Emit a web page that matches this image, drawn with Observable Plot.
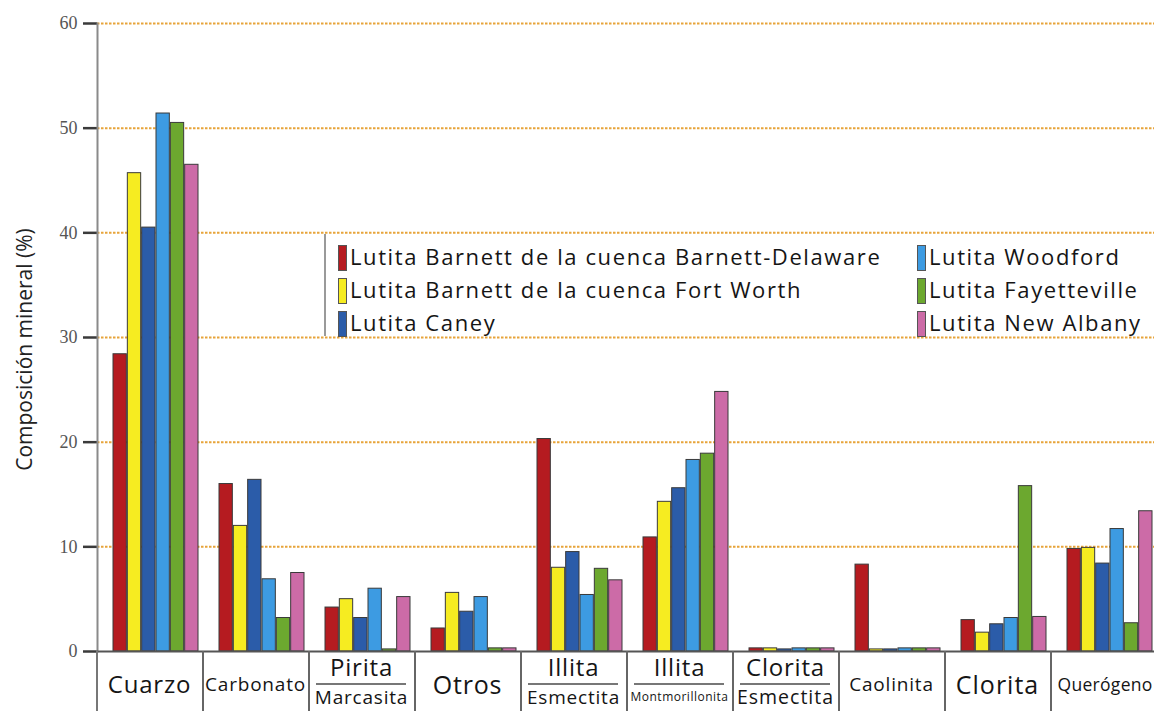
<!DOCTYPE html>
<html>
<head>
<meta charset="utf-8">
<script src="https://cdn.jsdelivr.net/npm/d3@7"></script>
<script src="https://cdn.jsdelivr.net/npm/@observablehq/plot@0.6"></script>
<style>
  html, body { margin: 0; padding: 0; background: #fff; overflow: hidden; }
  #wrap { position: relative; width: 1154px; height: 711px; overflow: hidden; }
  #wrap svg { display: block; }
  .legend { position: absolute; background: #fff; border-left: 2px solid #9a9a9a; font-family: "Open Sans", sans-serif; font-size: 22px; letter-spacing: 1.6px; color: #151515; }
  .litem { position: absolute; white-space: nowrap; line-height: 26px; }
  .sw { display: inline-block; width: 7px; height: 24px; border: 1px solid #555; vertical-align: middle; margin-right: 3px; position: relative; top: -1px; }
  .cell { position: absolute; box-sizing: border-box; border-right: 2px solid #666; font-family: "Open Sans", sans-serif; color: #151515; text-align: center; }
  .cell .t { position: absolute; left: -10px; right: -10px; white-space: nowrap; }
  .cell .rule { position: absolute; height: 0; border-top: 2px solid #777; }
</style>
</head>
<body>
<div id="wrap"></div>
<script>
// ---------- data ----------
const categories = ["Cuarzo", "Carbonato", "Pirita/Marcasita", "Otros", "Illita/Esmectita",
  "Illita/Montmorillonita", "Clorita/Esmectita", "Caolinita", "Clorita", "Querógeno"];
const labelTop = ["Cuarzo", "Carbonato", "Pirita", "Otros", "Illita", "Illita", "Clorita", "Caolinita", "Clorita", "Querógeno"];
const labelBottom = ["", "", "Marcasita", "", "Esmectita", "Montmorillonita", "Esmectita", "", "", ""];
const series = ["Lutita Barnett de la cuenca Barnett-Delaware", "Lutita Barnett de la cuenca Fort Worth",
  "Lutita Caney", "Lutita Woodford", "Lutita Fayetteville", "Lutita New Albany"];
const barnettDelaware = [28.4, 16.0, 4.2, 2.2, 20.3, 10.9, 0.3, 8.3, 3.0, 9.8];
const barnettFortWorth = [45.7, 12.0, 5.0, 5.6, 8.0, 14.3, 0.3, 0.2, 1.8, 9.9];
const caney = [40.5, 16.4, 3.2, 3.8, 9.5, 15.6, 0.2, 0.2, 2.6, 8.4];
const woodford = [51.4, 6.9, 6.0, 5.2, 5.4, 18.3, 0.3, 0.3, 3.2, 11.7];
const fayetteville = [50.5, 3.2, 0.2, 0.3, 7.9, 18.9, 0.3, 0.3, 15.8, 2.7];
const newAlbany = [46.5, 7.5, 5.2, 0.3, 6.8, 24.8, 0.3, 0.3, 3.3, 13.4];
const yTicks = [0, 10, 20, 30, 40, 50, 60];
const yTitle = "Composición mineral (%)";

// ---------- styles ----------
const colors = ["#b51b20", "#f6ec21", "#2b5ca9", "#3d9be2", "#6ca82f", "#cc6ba7"];
const W = 1154, H = 711, mTop = 23, mBottom = 60, mLeft = 97;
const xRange = [97, 1169.3], padIn = 0.194, padOut = 0.122;

const allValues = [barnettDelaware, barnettFortWorth, caney, woodford, fayetteville, newAlbany];
const data = [];
series.forEach((s, j) => categories.forEach((c, i) => data.push({cat: c, series: s, value: allValues[j][i]})));

// bandwidth (same parameters as the Plot x scale)
const band = d3.scaleBand(categories, xRange).paddingInner(padIn).paddingOuter(padOut);
const bw = band.bandwidth();
const sw = bw / series.length;

const barMarks = series.map((s, j) => Plot.barY(data.filter(d => d.series === s), {
  x: "cat", y: "value", fill: "series",
  insetLeft: j * sw, insetRight: (series.length - 1 - j) * sw,
  stroke: "#3a3a3a", strokeWidth: 1
}));

const plot = Plot.plot({
  width: W, height: H,
  marginTop: mTop, marginBottom: mBottom, marginLeft: mLeft, marginRight: 0,
  style: {background: "transparent", overflow: "visible"},
  x: {domain: categories, range: xRange, paddingInner: padIn, paddingOuter: padOut, axis: null},
  y: {domain: [0, 60], axis: null},
  color: {domain: series, range: colors},
  marks: [
    Plot.ruleY(yTicks.filter(t => t > 0), {stroke: "#e7a43a", strokeWidth: 2, strokeDasharray: "2.5,1.5"}),
    Plot.axisY({ticks: yTicks, tickSize: 14, tickPadding: 6, stroke: "#3a3a3a", strokeWidth: 2.5,
      fill: "#555", fontFamily: "Liberation Serif, serif", fontSize: 18, label: null, tickFormat: d => String(d)}),
    Plot.frame({anchor: "left", stroke: "#8a8a8a", strokeWidth: 2}),
    ...barMarks,
    Plot.ruleY([0], {stroke: "#555", strokeWidth: 2}),
    Plot.text([yTitle], {text: d => d, frameAnchor: "left", dx: -72, dy: 12, rotate: -90, textAnchor: "middle",
      fontSize: 21, fontFamily: "Open Sans, sans-serif", fill: "#222", ariaLabel: "ytitle"})
  ]
});
const wrap = document.getElementById("wrap");
wrap.appendChild(plot);
d3.select(plot).selectAll('g[aria-label="ytitle"] text').style("letter-spacing", "1.35px");

// ---------- category label table (positioned from Plot's x scale) ----------
const xs = plot.scale("x");
const step = xs.step;
const topSize = [24, 19, 24, 25, 24, 24, 24, 19, 25, 17.5];
const topLS = [0.8, 0.8, 0.8, 0.8, 0.8, 0.8, 0.8, 0.8, 1, 0.3];
const botSize = [0, 0, 19, 0, 19, 12, 19.5, 0, 0, 0];
const botLS = [0, 0, 0.8, 0, 0.8, 0.5, 1, 0, 0, 0];
categories.forEach((c, i) => {
  const start = xs.apply(c);
  const cell = document.createElement("div");
  cell.className = "cell";
  const left = start - 15.5;
  cell.style.left = left + "px";
  cell.style.top = (H - mBottom) + "px";
  cell.style.width = step + "px";
  cell.style.height = mBottom + "px";
  const t = document.createElement("div");
  t.className = "t"; t.textContent = labelTop[i];
  t.style.fontSize = topSize[i] + "px"; t.style.letterSpacing = topLS[i] + "px";
  if (labelBottom[i]) {
    t.style.top = "1px"; t.style.lineHeight = "30px";
    const r = document.createElement("div");
    r.className = "rule"; r.style.top = "32px"; r.style.left = "6px"; r.style.right = "8px";
    const b = document.createElement("div");
    b.className = "t"; b.textContent = labelBottom[i];
    b.style.fontSize = botSize[i] + "px"; b.style.letterSpacing = botLS[i] + "px";
    b.style.top = "34px"; b.style.lineHeight = "24px";
    cell.append(t, r, b);
  } else {
    t.style.top = "18px"; t.style.lineHeight = "30px";
    if (i === categories.length - 1) { t.style.left = "0px"; t.style.right = "auto"; t.style.paddingLeft = "6px"; }
    cell.append(t);
  }
  wrap.appendChild(cell);
});
// left border of the table continuing the axis
const lb = document.createElement("div");
lb.style.cssText = `position:absolute;left:${mLeft - 1}px;top:${H - mBottom}px;width:0;height:${mBottom}px;border-left:2px solid #777;`;
wrap.appendChild(lb);

// ---------- legend ----------
const y40 = plot.scale("y").apply(40), y30 = plot.scale("y").apply(30);
const lg = document.createElement("div");
lg.className = "legend";
lg.style.left = "324px";
lg.style.top = (y40 + 2) + "px";
lg.style.width = "900px";
lg.style.height = (y30 - y40 - 3) + "px";
const colX = [12, 591];
const rowY = [9, 42, 75];
series.forEach((s, j) => {
  const it = document.createElement("div");
  it.className = "litem";
  it.style.left = colX[Math.floor(j / 3)] + "px";
  it.style.top = rowY[j % 3] + "px";
  const sq = document.createElement("span");
  sq.className = "sw"; sq.style.background = colors[j];
  it.append(sq, document.createTextNode(s));
  lg.appendChild(it);
});
wrap.appendChild(lg);
</script>
</body>
</html>
